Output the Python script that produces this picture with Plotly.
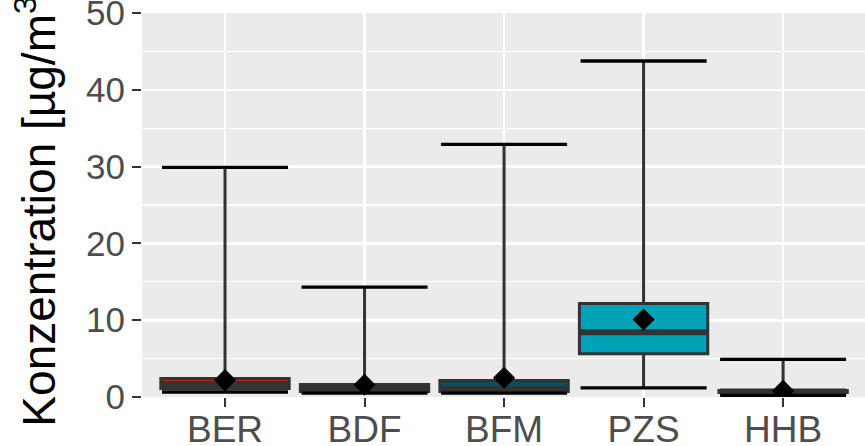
import plotly.graph_objects as go

# ---- data ----
stations = ["BER", "BDF", "BFM", "PZS", "HHB"]
lower_whisker = [0.65, 0.5, 0.5, 1.2, 0.2]
q1_values = [1.1, 0.72, 0.7, 5.62, 0.6]
median_values = [1.7, 1.17, 1.05, 8.42, 0.72]
q3_values = [2.4, 1.63, 2.15, 12.17, 0.85]
upper_whisker = [29.9, 14.3, 32.9, 43.75, 4.9]
mean_values = [2.2, 1.6, 2.5, 10.1, 0.8]
fill_colors = ["#B8261C", "#3A3A3A", "#0B4F5C", "#00A2B8", "#3A3A3A"]
y_ticks = [0, 10, 20, 30, 40, 50]

FONT = "Liberation Sans, Arial, Helvetica, sans-serif"
DARK = "#333333"

fig = go.Figure()

# boxes with whiskers (no caps)
for name, lo, a, m, b, hi, col in zip(stations, lower_whisker, q1_values,
                                      median_values, q3_values, upper_whisker,
                                      fill_colors):
    fig.add_trace(go.Box(
        x=[name], q1=[a], median=[m], q3=[b],
        lowerfence=[lo], upperfence=[hi],
        fillcolor=col, line=dict(color=DARK, width=3),
        whiskerwidth=0, boxpoints=False, showlegend=False,
        hoverinfo="skip",
    ))

# thick median lines
fig.add_trace(go.Scatter(
    x=stations, y=median_values, mode="markers", showlegend=False,
    marker=dict(symbol="line-ew", size=90, color=DARK,
                line=dict(color=DARK, width=6)),
    hoverinfo="skip",
))

# whisker caps (black)
fig.add_trace(go.Scatter(
    x=stations + stations, y=upper_whisker + lower_whisker, mode="markers",
    showlegend=False,
    marker=dict(symbol="line-ew", size=90, color="black",
                line=dict(color="black", width=3.3)),
    hoverinfo="skip",
))

# means
fig.add_trace(go.Scatter(
    x=stations, y=mean_values, mode="markers", showlegend=False,
    marker=dict(symbol="diamond", size=17, color="black",
                line=dict(width=0)),
    hoverinfo="skip",
))

fig.update_layout(
    width=865, height=446,
    margin=dict(l=142, r=0, t=13, b=49),
    paper_bgcolor="white", plot_bgcolor="#EBEBEB",
    font=dict(family=FONT),
    boxmode="overlay", boxgap=0.08, boxgroupgap=0,
)

fig.update_xaxes(
    type="category", categoryorder="array", categoryarray=stations,
    range=[-0.595, 4.587], automargin=False,
    showgrid=True, gridcolor="white", gridwidth=2.6,
    zeroline=False, showline=False,
    ticks="outside", ticklen=9, tickwidth=2, tickcolor=DARK,
    ticklabelstandoff=-9, ticklabeloverflow="allow",
    tickfont=dict(size=37, color="#4D4D4D", family=FONT),
)

fig.update_yaxes(
    range=[0, 50], tickvals=y_ticks, automargin=False,
    showgrid=True, gridcolor="white", gridwidth=2.6,
    minor=dict(dtick=5, tick0=0, showgrid=True, gridcolor="white",
               gridwidth=1.3, ticks=""),
    zeroline=False, showline=False,
    ticks="outside", ticklen=9, tickwidth=2, tickcolor=DARK,
    ticklabeloverflow="allow",
    tickfont=dict(size=35, color="#4D4D4D", family=FONT),
    title=dict(text="Konzentration [µg/m<sup>3</sup>]",
               font=dict(size=46, color="black", family=FONT),
               standoff=15),
)

fig.write_html(
    "out.html",
    config={"displayModeBar": False, "staticPlot": True},
    post_script="document.body.style.margin='0';"
                "document.body.style.overflow='hidden';",
)
